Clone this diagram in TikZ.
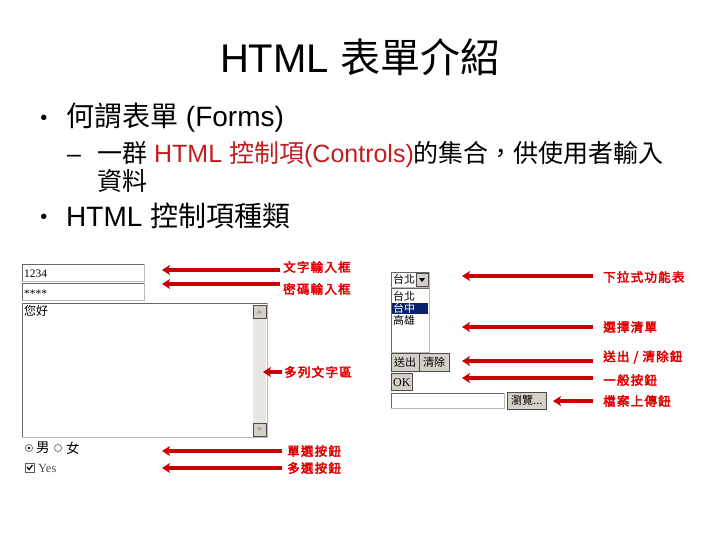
\documentclass[tikz,border=0pt]{standalone}
\usepackage{fontspec}
\setmainfont{Liberation Sans}
\newfontfamily\cjk{Noto Sans CJK TC}
\newfontfamily\cjkb[FakeBold=3,LetterSpace=10]{Noto Sans CJK TC}
\newfontfamily\serifw{Liberation Serif}
\usetikzlibrary{arrows.meta}
\definecolor{darkred}{RGB}{192,30,30}
\definecolor{arrred}{RGB}{204,0,0}
\definecolor{lblred}{RGB}{225,0,0}
\definecolor{btngray}{RGB}{212,208,200}
\definecolor{selblue}{RGB}{10,36,106}
\definecolor{scrollgray}{RGB}{232,230,225}
\tikzset{
  arr/.style={draw=arrred, line width=3.2pt, -{Stealth[length=8pt,width=10pt,inset=2pt]}},
  lbl/.style={anchor=west, inner sep=0pt, text=lblred, font=\cjkb\fontsize{12.5}{14}\selectfont},
  sunken/.style={draw=gray!55, fill=white, line width=0.6pt},
  sunkedge/.style={draw=black!60, line width=1pt},
  btn/.style={fill=btngray, draw=gray!60!black, line width=0.6pt},
  wtxt/.style={inner sep=0pt, anchor=base west, font=\serifw\fontsize{11.5}{12}\selectfont},
  wcjk/.style={inner sep=0pt, anchor=west, font=\cjk\fontsize{11}{12}\selectfont},
  bodytext/.style={inner sep=0pt, anchor=base west},
}
\begin{document}
\begin{tikzpicture}[x=1pt,y=-1pt]
\useasboundingbox[fill=white] (0,0) rectangle (720,540);

% ---- title and bullets
\node[inner sep=0pt] (title) at (360,57) {\fontsize{40}{48}\selectfont HTML {\cjk 表單介紹}};
\node[bodytext, anchor=base] (dot1) at (44,125) {\fontsize{20}{24}\selectfont •};
\node[bodytext] (b1) at (66,127) {\fontsize{28}{34}\selectfont{\cjk 何謂表單} (Forms)};
\node[bodytext] (dash) at (67,163) {\fontsize{25}{30}\selectfont –};
\node[bodytext] (s1) at (97,163) {\fontsize{25}{30}\selectfont{\cjk 一群} {\color{darkred}HTML {\cjk 控制項}(Controls)}{\cjk 的集合，供使用者輸入}};
\node[bodytext] (s2) at (97,191) {\fontsize{25}{30}\selectfont{\cjk 資料}};
\node[bodytext, anchor=base] (dot2) at (44,224) {\fontsize{20}{24}\selectfont •};
\node[bodytext] (b2) at (66,226) {\fontsize{28}{34}\selectfont HTML {\cjk 控制項種類}};

% ---- left widgets
% text box
\path[sunken] (22,264) rectangle (144,281);
\draw[sunkedge] (22,281) -- (22,264) -- (144,264);
\node[wtxt] (t1) at (24,277) {1234};
% password box
\path[sunken] (22,283) rectangle (144,300);
\draw[sunkedge] (22,300) -- (22,283) -- (144,283);
\node[wtxt] (t2) at (24,297) {****};
% textarea
\path[sunken] (22,303) rectangle (267,437);
\draw[sunkedge] (22,437) -- (22,303) -- (267,303);
\fill[scrollgray] (253,305) rectangle (266,436);
\path[btn] (253,305) rectangle (266,318);
\fill[gray!70] (256.5,313.5) -- (262.5,313.5) -- (259.5,310) -- cycle;
\path[btn] (253,423) rectangle (266,436);
\fill[gray!70] (256.5,427.5) -- (262.5,427.5) -- (259.5,431) -- cycle;
\node[wcjk, font=\cjk\fontsize{12}{13}\selectfont] (t3) at (24,311) {您好};
% radio buttons
\draw[gray!70!black, fill=white, line width=0.6pt] (29,448) circle (3.6);
\fill (29,448) circle (1.4);
\node[wcjk, font=\cjk\fontsize{13.5}{14}\selectfont] (t4) at (36,448) {男};
\draw[gray!70!black, fill=white, line width=0.6pt] (58,448) circle (3.6);
\node[wcjk, font=\cjk\fontsize{13.5}{14}\selectfont] (t5) at (66,448) {女};
% checkbox
\draw[gray!70!black, fill=white, line width=0.8pt] (25,463) rectangle (34,472);
\draw[black, line width=1.2pt] (27,467) -- (29,469.5) -- (32.5,465);
\node[wtxt, font=\serifw\fontsize{12.5}{13}\selectfont, text=black!70] (t6) at (38,472) {Yes};

% ---- right widgets
% dropdown
\path[sunken] (391,272) rectangle (429,287);
\draw[sunkedge] (391,287) -- (391,272) -- (429,272);
\path[btn] (416,273.5) rectangle (428,286);
\fill (419,278) -- (425,278) -- (422,282) -- cycle;
\node[wcjk] (d1) at (393,279.5) {台北};
% select list
\path[sunken] (391,288) rectangle (429,352);
\draw[sunkedge] (391,352) -- (391,288) -- (429,288);
\node[wcjk] (o1) at (393,296) {台北};
\fill[selblue] (392,303) rectangle (428,314);
\node[wcjk, text=white] (o2) at (393,308.5) {台中};
\node[wcjk] (o3) at (393,320) {高雄};
% submit / reset
\path[btn] (391,353) rectangle (419,371);
\node[wcjk] (bt1) at (394,362) {送出};
\path[btn] (419,353) rectangle (449,371);
\node[wcjk] (bt2) at (423,362) {清除};
% OK
\path[btn] (391,373) rectangle (412,390);
\node[wtxt, font=\serifw\fontsize{12}{13}\selectfont] (ok) at (393,386) {OK};
% file upload
\path[sunken] (391,393) rectangle (504,408);
\draw[sunkedge] (391,408) -- (391,393) -- (504,393);
\path[btn] (507,392) rectangle (546,409);
\node[wcjk] (br) at (511,400.5) {瀏覽...};

% ---- labels
\node[lbl] (l1) at (283,267) {文字輸入框};
\node[lbl] (l2) at (283,289) {密碼輸入框};
\node[lbl] (l3) at (284,372) {多列文字區};
\node[lbl] (l4) at (287,451) {單選按鈕};
\node[lbl] (l5) at (287,468) {多選按鈕};
\node[lbl] (r1) at (603,277) {下拉式功能表};
\node[lbl] (r2) at (603,327) {選擇清單};
\node[lbl] (r3) at (603,357) {送出 / 清除鈕};
\node[lbl] (r4) at (603,380) {一般按鈕};
\node[lbl] (r5) at (603,401) {檔案上傳鈕};

% ---- arrows
\coordinate (a1s) at (280,270); \coordinate (a1e) at (162,270);
\coordinate (a2s) at (280,284); \coordinate (a2e) at (162,284);
\coordinate (a3s) at (282,372); \coordinate (a3e) at (263,372);
\coordinate (a4s) at (282,451); \coordinate (a4e) at (162,451);
\coordinate (a5s) at (282,468); \coordinate (a5e) at (162,468);
\coordinate (c1s) at (593,276); \coordinate (c1e) at (462,276);
\coordinate (c2s) at (593,327); \coordinate (c2e) at (462,327);
\coordinate (c3s) at (593,361); \coordinate (c3e) at (462,361);
\coordinate (c4s) at (593,378); \coordinate (c4e) at (462,378);
\coordinate (c5s) at (593,401); \coordinate (c5e) at (553,401);
\foreach \p in {a1,a2,a3,a4,a5,c1,c2,c3,c4,c5}
  \draw[arr] (\p s) -- (\p e);
\end{tikzpicture}
\end{document}
